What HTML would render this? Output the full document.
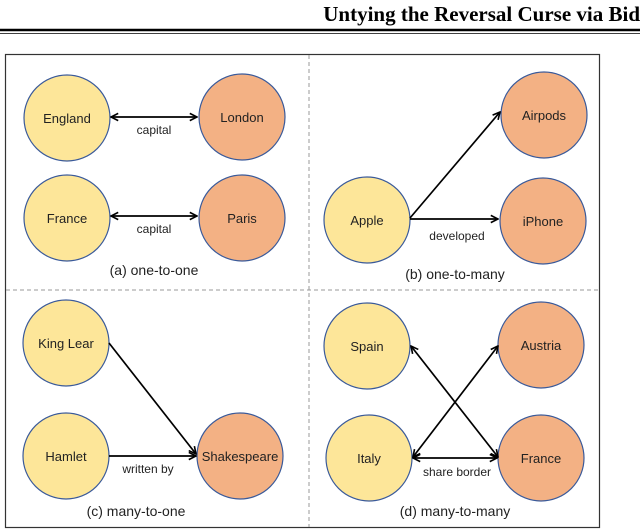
<!DOCTYPE html>
<html><head><meta charset="utf-8"><style>
body{margin:0;background:#fff;width:640px;height:530px;overflow:hidden}
</style></head><body>
<svg width="640" height="530" xmlns="http://www.w3.org/2000/svg" style="position:absolute;left:0;top:0">
<defs>
<marker id="a" viewBox="0 0 10 10" refX="9" refY="5" markerWidth="9" markerHeight="9" orient="auto-start-reverse" markerUnits="userSpaceOnUse">
<path d="M1,1 L9,5 L1,9" fill="none" stroke="#000" stroke-width="1.8"/></marker>
</defs>
<text x="640" y="21" text-anchor="end" font-family="Liberation Serif" font-weight="bold" font-size="21" fill="#000">Untying the Reversal Curse via Bid</text>
<line x1="0" y1="30" x2="640" y2="30" stroke="#000" stroke-width="2.5"/>
<line x1="0" y1="33.5" x2="640" y2="33.5" stroke="#000" stroke-width="0.7"/>
<rect x="5.5" y="54.5" width="594" height="473" fill="none" stroke="#333" stroke-width="1.2"/>
<line x1="309" y1="55" x2="309" y2="527" stroke="#999" stroke-dasharray="4,3"/>
<line x1="6" y1="290" x2="599" y2="290" stroke="#999" stroke-dasharray="4,3"/>
<g stroke="#3a5a9a" stroke-width="1.2" font-family="Liberation Sans" font-size="13">
<g fill="#fde699">
<ellipse cx="67" cy="118" rx="43" ry="43"/>
<ellipse cx="67" cy="218" rx="43" ry="43"/>
<ellipse cx="367" cy="220" rx="43" ry="43"/>
<ellipse cx="66" cy="343" rx="43" ry="43"/>
<ellipse cx="66" cy="456" rx="43" ry="43"/>
<ellipse cx="367" cy="346" rx="43" ry="43"/>
<ellipse cx="369" cy="458" rx="43" ry="43"/>
</g>
<g fill="#f3b184">
<ellipse cx="242" cy="117" rx="43" ry="43"/>
<ellipse cx="242" cy="218" rx="43" ry="43"/>
<ellipse cx="544" cy="115" rx="43" ry="43"/>
<ellipse cx="543" cy="221" rx="43" ry="43"/>
<ellipse cx="240" cy="456" rx="43" ry="43"/>
<ellipse cx="541" cy="345" rx="43" ry="43"/>
<ellipse cx="541" cy="458" rx="43" ry="43"/>
</g>
</g>
<g font-family="Liberation Sans" font-size="13" fill="#222" text-anchor="middle">
<text x="67" y="123">England</text><text x="242" y="122">London</text>
<text x="67" y="223">France</text><text x="242" y="223">Paris</text>
<text x="367" y="225">Apple</text><text x="544" y="120">Airpods</text><text x="543" y="226">iPhone</text>
<text x="66" y="348">King Lear</text><text x="66" y="461">Hamlet</text><text x="240" y="461">Shakespeare</text>
<text x="367" y="351">Spain</text><text x="541" y="350">Austria</text><text x="369" y="463">Italy</text><text x="541" y="463">France</text>
<text x="154" y="134" font-size="12">capital</text>
<text x="154" y="233" font-size="12">capital</text>
<text x="457" y="240" font-size="12">developed</text>
<text x="148" y="473" font-size="12">written by</text>
<text x="457" y="476" font-size="12">share border</text>
<text x="154" y="275" font-size="14">(a) one-to-one</text>
<text x="455" y="279" font-size="14">(b) one-to-many</text>
<text x="136" y="516" font-size="14">(c) many-to-one</text>
<text x="455" y="516" font-size="14">(d) many-to-many</text>
</g>
<g stroke="#000" stroke-width="1.7" fill="none">
<line x1="111" y1="117" x2="197" y2="117" marker-start="url(#a)" marker-end="url(#a)"/>
<line x1="111" y1="216" x2="197" y2="216" marker-start="url(#a)" marker-end="url(#a)"/>
<line x1="410" y1="218" x2="500" y2="112" marker-end="url(#a)"/>
<line x1="410" y1="219" x2="498" y2="219" marker-end="url(#a)"/>
<line x1="109" y1="343" x2="196" y2="454" marker-end="url(#a)"/>
<line x1="109" y1="456" x2="196" y2="456" marker-end="url(#a)"/>
<line x1="411" y1="346" x2="498" y2="457" marker-start="url(#a)" marker-end="url(#a)"/>
<line x1="413" y1="457" x2="498" y2="346" marker-start="url(#a)" marker-end="url(#a)"/>
<line x1="413" y1="458" x2="497" y2="458" marker-start="url(#a)" marker-end="url(#a)"/>
</g>
</svg>
</body></html>
